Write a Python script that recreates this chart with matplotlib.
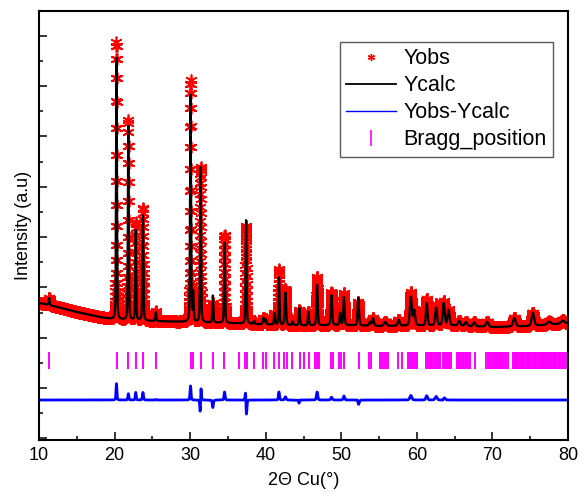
import numpy as np
from matplotlib import pyplot as plt
from matplotlib.lines import Line2D
from matplotlib.ticker import MultipleLocator, NullFormatter

plt.rcParams['font.family'] = ['Liberation Sans', 'DejaVu Sans']

# Messbereich (2Theta, Schrittweite 0.01 Grad)
two_theta = np.arange(10.0, 80.0001, 0.01)

# Untergrund: Stuetzpunkte
bg_pos = [10, 11, 13, 15, 18, 20, 25, 30, 35, 40, 45, 50, 55, 60, 65, 70, 75, 80]
bg_int = [3380, 3320, 3180, 3020, 2820, 2720, 2660, 2620, 2580, 2520,
          2480, 2500, 2460, 2480, 2480, 2420, 2460, 2580]

# Reflexe: Lage, Hoehe berechnet, Hoehe beobachtet, Halbwertsbreite, Verschiebung (obs)
peak_pos = [11.35, 20.25, 21.82, 22.80, 23.75, 25.45, 30.05, 30.40, 31.38, 33.00,
            34.55, 37.40, 38.45, 39.70, 40.00, 41.15, 41.75, 42.60, 43.55, 44.45,
            45.65, 46.80, 48.70, 49.85, 50.35, 52.25, 53.80, 54.20, 55.80, 57.60,
            59.20, 59.65, 61.30, 62.55, 63.55, 64.20, 65.60, 66.50, 67.60, 69.30,
            72.90, 75.35, 77.50, 79.30]
peak_calc = [280, 10400, 7710, 3580, 4170, 360, 9030, 1150, 6160, 1070,
             3180, 4120, 120, 260, 200, 460, 1890, 1290, 150, 700,
             540, 1610, 1190, 480, 1110, 1090, 160, 300, 160, 240,
             1130, 600, 890, 700, 890, 620, 200, 160, 160, 200,
             340, 520, 120, 120]
peak_obs = [280, 11050, 7960, 3880, 4470, 380, 9590, 1150, 6160, 770,
            3500, 3900, 120, 260, 200, 460, 2210, 1420, 150, 600,
            540, 1930, 1300, 480, 1270, 950, 160, 300, 160, 240,
            1310, 600, 1060, 840, 950, 620, 200, 160, 160, 200,
            340, 520, 120, 120]
peak_fwhm = [0.15, 0.14, 0.14, 0.14, 0.16, 0.16, 0.15, 0.15, 0.15, 0.16,
             0.16, 0.16, 0.18, 0.20, 0.20, 0.16, 0.16, 0.22, 0.18, 0.18,
             0.18, 0.20, 0.22, 0.20, 0.20, 0.22, 0.25, 0.25, 0.40, 0.30,
             0.30, 0.30, 0.25, 0.30, 0.30, 0.30, 0.35, 0.35, 0.35, 0.40,
             0.40, 0.40, 0.50, 0.50]
peak_shift = [0, 0, 0, 0, 0, 0, 0, 0, 0.008, 0,
              0, -0.012, 0, 0, 0, 0, 0, 0, 0, 0.01,
              0, 0, 0, 0, 0, -0.01, 0, 0, 0, 0,
              0, 0, 0, 0, 0.01, 0, 0, 0, 0, 0,
              0, 0, 0, 0]

# Bragg-Positionen
bragg = [11.32, 20.28, 21.82, 22.79, 23.72, 23.80, 25.44, 30.07, 30.38, 31.39,
         33.02, 34.52, 36.51, 37.26, 37.56, 38.45, 39.68, 40.00, 41.13, 41.76,
         42.46, 42.77, 43.52, 44.53, 45.10, 45.72, 46.55, 46.65, 46.96, 47.02,
         48.63, 48.86, 49.69, 49.96, 50.39, 52.34, 53.67, 53.93, 55.12, 55.30,
         55.55, 55.80, 56.00, 56.22, 57.54, 57.98, 58.86, 58.98, 59.10, 59.25,
         59.40, 59.55, 59.70, 59.85, 59.97, 61.20, 61.35, 61.50, 61.75, 61.90,
         62.05, 62.30, 62.50, 62.70, 62.90, 63.06, 63.40, 63.55, 63.75, 63.95,
         64.20, 64.35, 64.50, 65.27, 65.45, 65.60, 65.80, 66.05, 66.25, 66.50,
         66.70, 66.85, 67.03, 67.70, 69.20, 69.35, 69.55, 69.70, 69.95, 70.10,
         70.30, 70.45, 70.70, 70.85, 71.00, 71.25, 71.45, 71.60, 71.85, 72.08,
         72.70, 72.85, 73.00, 73.12, 73.30, 73.45, 73.58, 73.75, 73.90, 74.08,
         74.20, 74.40, 74.55, 74.70, 74.85, 75.02, 75.15, 75.33, 75.50, 75.62,
         75.80, 75.95, 76.10, 76.28, 76.40, 76.55, 76.72, 76.88, 77.00, 77.18,
         77.35, 77.50, 77.65, 77.80, 77.96, 78.10, 78.30, 78.50, 78.75, 79.00,
         79.25, 79.50, 79.70]

diff_offset = -480
bragg_low, bragg_high = 755, 1431


def pseudo_voigt(x, x0, w, eta=0.3):
    d = (x - x0) / w
    return eta / (1 + 4 * d**2) + (1 - eta) * np.exp(-4 * np.log(2) * d**2)


background = np.interp(two_theta, bg_pos, bg_int)
y_calc = background.copy()
y_obs = background.copy()
for p, hc, ho, w, s in zip(peak_pos, peak_calc, peak_obs, peak_fwhm, peak_shift):
    y_calc += hc * pseudo_voigt(two_theta, p, w)
    y_obs += ho * pseudo_voigt(two_theta, p + s, w)
y_diff = y_obs - y_calc + diff_offset

fig = plt.figure(figsize=(5.8, 4.94), dpi=100)
ax = fig.add_axes([39 / 580, 54 / 494, 529 / 580, 429 / 494])

star = (6, 2, 0)
ax.plot(two_theta, y_obs, linestyle='', marker=star, color='red',
        markersize=8.5, markeredgewidth=1.2)
ax.plot(two_theta, y_calc, color='black', linewidth=1.6)
ax.vlines(bragg, bragg_low, bragg_high, color='magenta', linewidth=1.4)
ax.plot(two_theta, y_diff, color='blue', linewidth=2.0)

ax.set_xlim(10, 80)
ax.set_ylim(-2070, 14990)
ax.xaxis.set_major_locator(MultipleLocator(10))
ax.xaxis.set_minor_locator(MultipleLocator(5))
ax.yaxis.set_major_locator(MultipleLocator(2000))
ax.yaxis.set_minor_locator(MultipleLocator(1000))
ax.yaxis.set_major_formatter(NullFormatter())
ax.tick_params(which='both', direction='in', top=False, right=False, width=1.1)
ax.tick_params(which='major', length=5.8, labelsize=13, pad=5)
ax.tick_params(which='minor', length=3.2)
for s in ax.spines.values():
    s.set_linewidth(1.5)

ax.set_xlabel('2Θ Cu(°)', fontsize=13, labelpad=6)
ax.set_ylabel('Intensity (a.u)', fontsize=13, labelpad=0)

handles = [
    Line2D([], [], linestyle='', marker=star, color='red', markersize=5, markeredgewidth=1),
    Line2D([], [], color='black', linewidth=1.3),
    Line2D([], [], color='blue', linewidth=1),
    Line2D([], [], linestyle='', marker='|', color='magenta', markersize=12, markeredgewidth=1.2),
]
labels = ['Yobs', 'Ycalc', 'Yobs-Ycalc', 'Bragg_position']
leg = ax.legend(handles, labels, loc='upper right', bbox_to_anchor=(0.972, 0.928),
                borderaxespad=0, fontsize=15.5, numpoints=1, handlelength=2.3,
                handletextpad=0.35, labelspacing=0.28, borderpad=0.3,
                fancybox=False, framealpha=1, edgecolor='0.35')
leg.get_frame().set_linewidth(1.0)

fig.savefig('out.png', dpi=100)
